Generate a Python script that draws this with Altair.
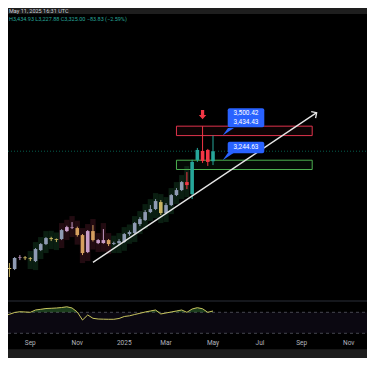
import altair as alt
import pandas as pd

# ---------------- data ----------------
dates = ["2024-07-29","2024-08-05","2024-08-12","2024-08-19","2024-08-26","2024-09-02",
         "2024-09-09","2024-09-16","2024-09-23","2024-09-30","2024-10-07","2024-10-14",
         "2024-10-21","2024-10-28","2024-11-04","2024-11-11","2024-11-18","2024-11-25",
         "2024-12-02","2024-12-09","2024-12-16","2024-12-23","2024-12-30","2025-01-06",
         "2025-01-13","2025-01-20","2025-01-27","2025-02-03","2025-02-10","2025-02-17",
         "2025-02-24","2025-03-03","2025-03-10","2025-03-17","2025-03-24","2025-03-31",
         "2025-04-07","2025-04-14","2025-04-21","2025-04-28","2025-05-05"]
opens  = [2458,2507,2500,2578,2582,2576,2556,2633,2675,2717,2710,2710,2766,2794,2787,2738,2619,2766,
          2703,2682,2703,2676,2682,2690,2745,2752,2815,2843,2899,2920,2969,2892,2948,3018,3053,3109,
          3025,3264,3327,3334,3255]
highs  = [2528,2542,2584,2598,2591,2584,2647,2682,2724,2726,2714,2780,2803,2829,2797,2745,2773,2808,
          2710,2780,2710,2692,2710,2752,2770,2829,2864,2913,2948,2990,2983,2962,3025,3067,3116,3179,
          3265,3348,3500,3341,3434.93]
lows   = [2437,2444,2493,2563,2563,2556,2549,2626,2668,2696,2689,2703,2759,2780,2727,2598,2612,2693,
          2675,2678,2661,2668,2668,2684,2733,2745,2801,2836,2892,2913,2878,2885,2941,3011,3046,3060,
          2990,3250,3243,3222,3227.88]
closes = [2507,2500,2577,2582,2576,2570,2640,2675,2717,2710,2704,2773,2794,2790,2738,2612,2766,2703,
          2682,2703,2675,2682,2696,2745,2759,2822,2850,2899,2920,2976,2892,2948,3018,3053,3109,3088,
          3250,3334,3257,3250,3325]
tones  = ["g","y","g","p","y","y","g","g","g","y","y","g","p","p","o","o","p","o",
          "p","p","o","g","g","g","g","g","g","g","g","g","y","g","g","g","g","r",
          "t","t","r","r","t"]
shades = ["n","n","n","n","n","u","u","u","u","u","u","d","d","d","d","d","d","d",
          "d","d","d","u","u","u","u","u","u","u","u","u","u","u","u","u","u","u",
          "n","n","n","n","n"]
rsi    = [64.3,66.2,69.6,71.1,70.6,70.0,74.4,75.7,77.2,77.6,78.2,79.1,80.5,78.2,70.6,55.3,64.9,58.6,
          57.2,56.9,56.7,56.7,58.2,62.0,63.3,65.8,68.1,70.6,72.5,74.4,66.8,68.7,70.6,72.5,74.4,70.0,
          76.3,78.8,76.7,70.0,72.5]

month_ticks = ["2024-09-02","2024-11-04","2025-01-06","2025-03-03","2025-05-05",
               "2025-07-07","2025-09-01","2025-11-03"]

zone_names  = ["resistance", "support"]
zone_start  = ["2025-03-17", "2025-03-17"]
zone_end    = ["2025-09-15", "2025-09-15"]
zone_top    = [3500.42, 3262]
zone_bottom = [3434.43, 3197]

trend_dates  = ["2024-11-25", "2025-09-21"]
trend_prices = [2547, 3595]

last_close = 3325.00
rsi_levels = [30, 70]

header_time = "May 11, 2025 16:31 UTC"
header_ohlc = "H3,434.93  L3,227.88  C3,325.00  \u221283.83 (\u22122.59%)"

# ---------------- scales ----------------
W, H = 359, 350
xs = alt.Scale(type="utc", nice=False, padding=0,
               domain=[alt.DateTime(year=2024, month=8, date=3, hours=2, minutes=18, utc=True),
                       alt.DateTime(year=2025, month=11, date=27, hours=12, utc=True)])
ys = alt.Scale(domain=[2300, 4000], range=[289.64, 46.79], zero=False, nice=False, padding=0)
rs = alt.Scale(domain=[30, 70], range=[325.3, 304.3], zero=False, nice=False, padding=0)

tone_scale = alt.Scale(domain=["g", "y", "p", "o", "t", "r"],
                       range=["#8f9bb3", "#c9b562", "#c89dc8", "#d59f5f", "#26a69a", "#f23645"])
shade_scale = alt.Scale(domain=["u", "d", "n"], range=["#0a1e11", "#220b11", "#000000"])

candles = pd.DataFrame({"date": dates, "open": opens, "high": highs, "low": lows,
                        "close": closes, "tone": tones, "shade": shades, "rsi": rsi})
one = pd.DataFrame({"a": [0]})

def X(field="date"):
    return alt.X(f"{field}:T", scale=xs, axis=None)

def Yp(field):
    return alt.Y(f"{field}:Q", scale=ys, axis=None)

# ---------------- layers ----------------
top_bar = alt.Chart(one).mark_rect(color="#1e1e1e").encode(
    x=alt.value(0), x2=alt.value(W), y=alt.value(0), y2=alt.value(6))
bottom_bar = alt.Chart(one).mark_rect(color="#1e1e1e").encode(
    x=alt.value(0), x2=alt.value(W), y=alt.value(341.3), y2=alt.value(H))
separator = alt.Chart(one).mark_rule(color="#2a2e39", strokeWidth=1).encode(
    x=alt.value(0), x2=alt.value(W), y=alt.value(293))

band = alt.Chart(pd.DataFrame({"lo": [rsi_levels[0]], "hi": [rsi_levels[1]]})).mark_rect(
    color="#7e57c2", opacity=0.09).encode(
    x=alt.value(0), x2=alt.value(W),
    y=alt.Y("lo:Q", scale=rs, axis=None), y2="hi:Q")
levels = alt.Chart(pd.DataFrame({"lvl": rsi_levels})).mark_rule(
    color="#787b86", strokeDash=[3, 3], strokeWidth=0.8, opacity=0.7).encode(
    x=alt.value(0), x2=alt.value(W), y=alt.Y("lvl:Q", scale=rs, axis=None))
rsi_fill = alt.Chart(candles).transform_calculate(
    top="max(datum.rsi, 70)", base="70").mark_area(color="#4caf50", opacity=0.35).encode(
    x=X(), y=alt.Y("top:Q", scale=rs, axis=None), y2="base:Q")
rsi_line = alt.Chart(candles).mark_line(color="#c8c45e", strokeWidth=1).encode(
    x=X(), y=alt.Y("rsi:Q", scale=rs, axis=None))

month_labels = alt.Chart(pd.DataFrame({"d": month_ticks})).transform_calculate(
    lab="utcmonth(toDate(datum.d)) == 0 ? utcFormat(toDate(datum.d), '%Y') : utcFormat(toDate(datum.d), '%b')"
).mark_text(color="#b2b5be", fontSize=6.5, font="Roboto", baseline="middle", align="center").encode(
    x=X("d"), y=alt.value(334.7), text="lab:N")

price_line = alt.Chart(pd.DataFrame({"p": [last_close]})).mark_rule(
    color="#089981", strokeDash=[1, 2], strokeWidth=1, opacity=0.6).encode(
    x=alt.value(0), x2=alt.value(W), y=Yp("p"))

shade = alt.Chart(candles).mark_bar(size=5.3, yOffset=-6, y2Offset=8).encode(
    x=X(), y=Yp("high"), y2="low:Q",
    color=alt.Color("shade:N", scale=shade_scale, legend=None))

zones = alt.Chart(pd.DataFrame({"name": zone_names, "s": zone_start, "e": zone_end,
                                "top": zone_top, "bot": zone_bottom})).mark_rect(
    fillOpacity=0.06, strokeWidth=1).encode(
    x=X("s"), x2="e:T", y=Yp("top"), y2="bot:Q",
    stroke=alt.Stroke("name:N", scale=alt.Scale(domain=zone_names, range=["#e0334c", "#4caf50"]), legend=None),
    fill=alt.Fill("name:N", scale=alt.Scale(domain=zone_names, range=["#e0334c", "#4caf50"]), legend=None))

wicks = alt.Chart(candles).mark_rule(strokeWidth=1).encode(
    x=X(), y=Yp("low"), y2="high:Q",
    color=alt.Color("tone:N", scale=tone_scale, legend=None))

bodies = alt.Chart(candles).mark_bar(size=3.6).encode(
    x=X(), y=Yp("open"), y2="close:Q",
    color=alt.Color("tone:N", scale=tone_scale, legend=None))

trend = alt.Chart(pd.DataFrame({"d": trend_dates, "p": trend_prices})).mark_line(
    color="#e6e6e6", strokeWidth=1.3).encode(x=X("d"), y=Yp("p"))
trend_head = alt.Chart(pd.DataFrame({"d": trend_dates[1:], "p": trend_prices[1:]})).mark_point(
    shape="M-0.75,0.75L0,0L0.75,0.75", filled=False, color="#e6e6e6", strokeWidth=1.3,
    size=110, angle=56, opacity=1).encode(x=X("d"), y=Yp("p"))

peak = alt.Chart(pd.DataFrame({"d": ["2025-04-21"], "p": [3500]})).mark_point(
    shape="M-0.35,-1L0.35,-1L0.35,0.05L0.8,0.05L0,1L-0.8,0.05L-0.35,0.05Z",
    filled=True, color="#f23645", size=86, opacity=1, yOffset=-11.5).encode(
    x=X("d"), y=Yp("p"))

def callout(price, lines, top_off, bot_off, text_offs):
    df = pd.DataFrame({"d": ["2025-05-18"], "p": [price]})
    base = alt.Chart(df).encode(x=X("d"), y=Yp("p"))
    box = base.mark_rect(color="#2962ff", cornerRadius=2, xOffset=5, x2Offset=41.6,
                         yOffset=top_off, y2Offset=bot_off).encode(x2="d:T", y2="p:Q")
    tip = base.mark_point(shape="M-1,1L-0.12,-0.25L0.88,-0.25Z", filled=True, color="#2962ff",
                          size=144, opacity=1, xOffset=6, yOffset=-6)
    texts = []
    for t, off in zip(lines, text_offs):
        texts.append(alt.Chart(pd.DataFrame({"d": ["2025-05-18"], "p": [price], "t": [t]})).mark_text(
            color="white", fontSize=6.5, font="Roboto", align="center", baseline="middle",
            dx=23.3, dy=off).encode(x=X("d"), y=Yp("p"), text="t:N"))
    return [box, tip] + texts

call1 = callout(zone_bottom[0], ["3,500.42", "3,434.43"], -27.3, -8.3, [-22.3, -13.9])
call2 = callout(zone_top[1], ["3,244.63"], -18.5, -6.9, [-12.9])

head1 = alt.Chart(pd.DataFrame({"t": [header_time]})).mark_text(
    color="#d1d4dc", fontSize=5.5, font="Roboto", align="left", baseline="middle").encode(
    x=alt.value(1), y=alt.value(3), text="t:N")
head2 = alt.Chart(pd.DataFrame({"t": [header_ohlc]})).mark_text(
    color="#26a69a", fontSize=5.5, font="Roboto", align="left", baseline="middle").encode(
    x=alt.value(1), y=alt.value(11), text="t:N")

layers = [top_bar, bottom_bar, separator, band, levels, rsi_fill, rsi_line, month_labels,
          price_line, shade, zones, wicks, bodies, trend, trend_head, peak] + call1 + call2 + [head1, head2]

chart = alt.layer(*layers).resolve_scale(
    y="independent", color="independent", stroke="independent", fill="independent").properties(
    width=W, height=H, padding=0, autosize=alt.AutoSizeParams(type="none"),
    background="#000000"
).configure_view(stroke=None)

chart.save("out.html", embed_options={"renderer": "svg", "actions": False})
